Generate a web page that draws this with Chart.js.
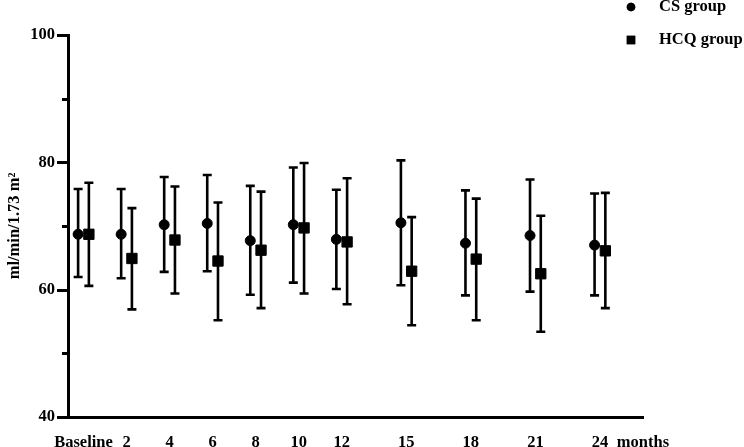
<!DOCTYPE html>
<html><head><meta charset="utf-8">
<script src="https://cdn.jsdelivr.net/npm/chart.js@4/dist/chart.umd.min.js"></script>
<style>html,body{margin:0;padding:0;background:#fff}</style>
</head><body>
<canvas id="c" width="744" height="447"></canvas>
<script>
// ---- data ----
const months = [0, 2, 4, 6, 8, 10, 12, 15, 18, 21, 24];
const tickMonths = [0, 2, 4, 6, 8, 10, 12, 15, 18, 21, 24, 26];
const tickLabels = ['Baseline', '2', '4', '6', '8', '10', '12', '15', '18', '21', '24', 'months'];
const yTickValues = [40, 50, 60, 70, 80, 90, 100];
const yLabelValues = [40, 60, 80, 100];

const csMean  = [68.7, 68.7, 70.2, 70.4, 67.7, 70.2, 67.9, 70.5, 67.3, 68.5, 67.0];
const csHigh  = [75.8, 75.8, 77.7, 78.0, 76.3, 79.2, 75.7, 80.3, 75.6, 77.3, 75.1];
const csLow   = [62.0, 61.8, 62.8, 62.9, 59.2, 61.1, 60.1, 60.7, 59.1, 59.7, 59.1];

const hcqMean = [68.7, 64.9, 67.8, 64.5, 66.2, 69.7, 67.5, 62.9, 64.8, 62.5, 66.1];
const hcqHigh = [76.8, 72.8, 76.2, 73.7, 75.4, 79.9, 77.5, 71.4, 74.3, 71.6, 75.2];
const hcqLow  = [60.6, 56.9, 59.4, 55.2, 57.1, 59.4, 57.7, 54.4, 55.2, 53.4, 57.1];

// ---- style ----
const FONT = '"Liberation Serif", "Times New Roman", serif';
const FSIZE = 16.5;
const DODGE = 0.25;

function pts(mean, low, high, sign) {
  return months.map((m, i) => ({ x: m + sign * DODGE, y: mean[i], lo: low[i], hi: high[i] }));
}

const errorBars = {
  id: 'errorBars',
  beforeDatasetsDraw(chart) {
    const ctx = chart.ctx, y = chart.scales.y;
    ctx.save();
    ctx.strokeStyle = '#000';
    ctx.lineWidth = 2.6;
    chart.data.datasets.forEach((ds, di) => {
      const meta = chart.getDatasetMeta(di);
      meta.data.forEach((el, j) => {
        const d = ds.data[j];
        const yt = y.getPixelForValue(d.hi), yb = y.getPixelForValue(d.lo);
        ctx.beginPath();
        ctx.moveTo(el.x, yt); ctx.lineTo(el.x, yb);
        ctx.moveTo(el.x - 4.5, yt); ctx.lineTo(el.x + 4.5, yt);
        ctx.moveTo(el.x - 4.5, yb); ctx.lineTo(el.x + 4.5, yb);
        ctx.stroke();
      });
    });
    ctx.restore();
  }
};

const extras = {
  id: 'extras',
  afterDraw(chart) {
    const ctx = chart.ctx, y = chart.scales.y;
    ctx.save();
    // y-axis tick marks (major long, minor short)
    ctx.strokeStyle = '#000';
    ctx.lineWidth = 3;
    yTickValues.forEach(v => {
      const len = yLabelValues.includes(v) ? 11 : 6;
      const py = Math.round(y.getPixelForValue(v)) + 0.5;
      ctx.beginPath();
      ctx.moveTo(y.right - len, py); ctx.lineTo(y.right + 1, py);
      ctx.stroke();
    });
    // legend
    ctx.font = 'bold ' + FSIZE + 'px ' + FONT;
    ctx.fillStyle = '#000';
    ctx.textBaseline = 'middle';
    ctx.textAlign = 'left';
    const rows = [7, 40];
    chart.data.datasets.forEach((ds, i) => {
      Chart.helpers.drawPoint(ctx, {
        pointStyle: ds.pointStyle, radius: i === 0 ? 4.3 : 6, borderWidth: 0, rotation: 0
      }, 631, rows[i]);
      ctx.fillStyle = '#000';
      ctx.fill();
      ctx.fillText(ds.label, 659, rows[i]);
    });
    ctx.restore();
  }
};

new Chart(document.getElementById('c'), {
  type: 'scatter',
  data: {
    datasets: [
      { label: 'CS group', data: pts(csMean, csLow, csHigh, -1), pointStyle: 'circle',
        pointRadius: 5, pointBackgroundColor: '#000', pointBorderColor: '#000', pointBorderWidth: 1 },
      { label: 'HCQ group', data: pts(hcqMean, hcqLow, hcqHigh, 1), pointStyle: 'rect',
        pointRadius: 7.3, pointBackgroundColor: '#000', pointBorderColor: '#000', pointBorderWidth: 1 }
    ]
  },
  options: {
    responsive: false,
    animation: false,
    devicePixelRatio: 1,
    layout: { padding: { left: 0, right: 101, top: 35, bottom: 0 } },
    plugins: { legend: { display: false }, tooltip: { enabled: false } },
    scales: {
      x: {
        type: 'linear', min: -0.72, max: 26,
        afterBuildTicks: s => { s.ticks = tickMonths.map(v => ({ value: v })); },
        afterFit: s => { s.height = 30; },
        grid: { display: false },
        border: { display: true, color: '#000', width: 3 },
        ticks: {
          autoSkip: false, maxRotation: 0, minRotation: 0, padding: 8, color: '#000',
          font: { family: FONT, size: FSIZE, weight: 'bold' },
          callback: v => tickLabels[tickMonths.indexOf(v)]
        }
      },
      y: {
        min: 40, max: 100,
        afterBuildTicks: s => { s.ticks = yTickValues.map(v => ({ value: v })); },
        afterFit: s => { s.width = 68; },
        grid: {
          drawOnChartArea: false, drawTicks: true, tickLength: 10, tickWidth: 3,
          tickColor: 'rgba(0,0,0,0)'
        },
        border: { display: true, color: '#000', width: 3 },
        ticks: {
          padding: 3, color: '#000',
          font: { family: FONT, size: FSIZE, weight: 'bold' },
          callback: v => yLabelValues.includes(v) ? String(v) : ''
        },
        title: {
          display: true, text: 'ml/min/1.73 m²', color: '#000',
          font: { family: FONT, size: FSIZE, weight: 'bold' },
          padding: { top: 5, bottom: 0 }
        }
      }
    }
  },
  plugins: [errorBars, extras]
});
</script>
</body></html>
